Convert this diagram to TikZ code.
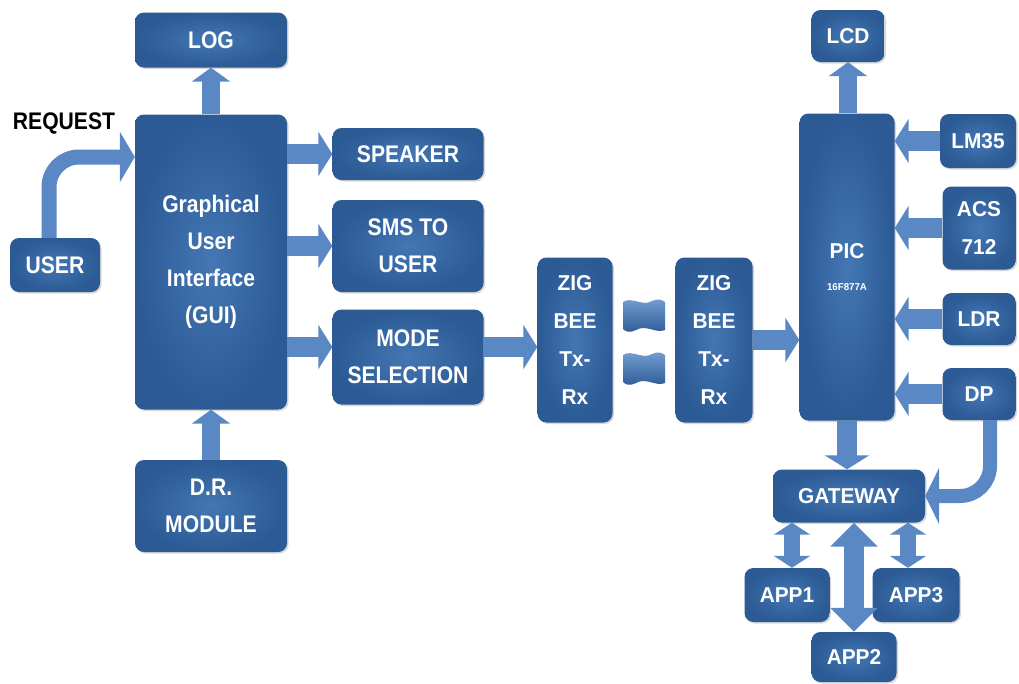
\documentclass[tikz,border=0pt]{standalone}
\usepackage{fontspec}
\setmainfont{Liberation Sans}[FakeStretch=0.88]
\newfontfamily\rightfont{Liberation Sans}[FakeStretch=0.97]
\usetikzlibrary{arrows.meta,shadows}
\definecolor{boxout}{HTML}{2B5A94}
\definecolor{boxin}{HTML}{4477B3}
\definecolor{arr}{HTML}{5A88C4}
\definecolor{arrlight}{HTML}{7AA2D6}
\begin{document}
\begin{tikzpicture}[x=1pt,y=-1pt,
 box/.style={rounded corners=9pt, inner color=boxin, outer color=boxout, text=white,
   font=\bfseries\fontsize{24}{37}\selectfont, align=center, inner sep=0pt,
   drop shadow={opacity=0.3,shadow xshift=1.5pt,shadow yshift=-1.5pt}},
 rbox/.style={box, font=\rightfont\bfseries\fontsize{21.5}{38}\selectfont},
 blk/.style={draw=arr, line width=20pt, -{Triangle[width=44pt,length=14pt]}},
 dbl/.style={draw=arr, line width=16pt, {Triangle[width=36pt,length=12pt]}-{Triangle[width=36pt,length=12pt]}},
 wave/.style={top color=arrlight, bottom color=boxout}
]
\useasboundingbox[fill=white] (0,0) rectangle (1019,683);

% left part
\node[box, minimum width=152pt, minimum height=55pt] (log) at (211,40) {LOG};
\node[box, minimum width=152pt, minimum height=295pt] (gui) at (211,262) {Graphical\\User\\Interface\\(GUI)};
\node[box, minimum width=90pt, minimum height=54pt] (user) at (55,265) {USER};
\node[font=\bfseries\fontsize{24}{25}\selectfont, text=black] (req) at (64,123) {REQUEST};
\node[box, minimum width=151pt, minimum height=52pt] (speaker) at (408,154) {SPEAKER};
\node[box, minimum width=151pt, minimum height=92pt] (sms) at (408,246) {SMS TO\\USER};
\node[box, minimum width=151pt, minimum height=95pt] (mode) at (408,357) {MODE\\SELECTION};
\node[box, minimum width=152pt, minimum height=92pt] (dr) at (211,506) {D.R.\\MODULE};

% zigbee
\node[rbox, minimum width=75pt, minimum height=165pt] (zig1) at (575,340) {ZIG\\BEE\\Tx-\\Rx};
\node[rbox, minimum width=77pt, minimum height=165pt] (zig2) at (714,340) {ZIG\\BEE\\Tx-\\Rx};
\foreach \cy in {315,368}{
  \shade[wave, shift={(644,\cy)}] (-21,-13) .. controls (-12,-19) and (-2,-8) .. (8,-14)
    .. controls (14,-17) and (18,-15) .. (21,-13) -- (21,15)
    .. controls (12,19) and (2,9) .. (-8,15) .. controls (-14,18) and (-18,17) .. (-21,14) -- cycle;
}

% right part
\node[rbox, minimum width=95pt, minimum height=307pt] (pic) at (847,267) {PIC\\[-6pt]{\fontsize{10}{10}\selectfont 16F877A}};
\node[rbox, minimum width=73pt, minimum height=52pt] (lcd) at (848,36) {LCD};
\node[rbox, minimum width=76pt, minimum height=54pt] (lm35) at (978,141) {LM35};
\node[rbox, minimum width=73pt, minimum height=83pt] (acs) at (979,228) {ACS\\712};
\node[rbox, minimum width=73pt, minimum height=52pt] (ldr) at (979,319) {LDR};
\node[rbox, minimum width=73pt, minimum height=52pt] (dp) at (979,394) {DP};
\node[rbox, minimum width=152pt, minimum height=53pt] (gw) at (849,496) {GATEWAY};
\node[rbox, minimum width=85pt, minimum height=54pt] (app1) at (787,595) {APP1};
\node[rbox, minimum width=87pt, minimum height=54pt] (app3) at (916,595) {APP3};
\node[rbox, minimum width=85pt, minimum height=50pt] (app2) at (854,657) {APP2};

% arrows left
\draw[blk, line width=18pt, -{Triangle[width=38pt,length=14pt]}] (gui.north) -- (log.south);
\draw[blk, line width=18pt, -{Triangle[width=38pt,length=14pt]}] (dr.north) -- (gui.south);
\draw[blk] (gui.east |- speaker.west) -- (speaker.west);
\draw[blk] (gui.east |- sms.west) -- (sms.west);
\coordinate (m) at ([yshift=10pt]mode.east);
\draw[blk] (gui.east |- m) -- (mode.west |- m);
\draw[blk] (m) -- (zig1.west |- m);
\draw[blk, line width=15pt, -{Triangle[width=50pt,length=15pt]}, rounded corners=30pt]
  ([xshift=-6pt]user.north) |- (gui.west |- 0,157);

% arrows right
\draw[blk] (zig2.east) -- (pic.west |- zig2.east);
\draw[blk, line width=18pt, -{Triangle[width=38pt,length=14pt]}] (pic.north -| lcd.south) -- (lcd.south);
\draw[blk] (lm35.west) -- (pic.east |- lm35.west);
\draw[blk] (acs.west) -- (pic.east |- acs.west);
\draw[blk] (ldr.west) -- (pic.east |- ldr.west);
\draw[blk] (dp.west) -- (pic.east |- dp.west);
\draw[blk] (pic.south) -- (gw.north -| pic.south);
\draw[blk, line width=14pt, -{Triangle[width=56pt,length=14pt]}, rounded corners=30pt]
  ([xshift=11pt]dp.south) |- (gw.east);
\draw[dbl] ([xshift=5pt]gw.south -| app1.north) -- ([xshift=5pt]app1.north);
\draw[dbl] ([xshift=-8pt]gw.south -| app3.north) -- ([xshift=-8pt]app3.north);
\draw[dbl, line width=20pt, {Triangle[width=46pt,length=24pt]}-{Triangle[width=46pt,length=24pt]}] (gw.south -| app2.north) -- (app2.north);
\end{tikzpicture}
\end{document}
